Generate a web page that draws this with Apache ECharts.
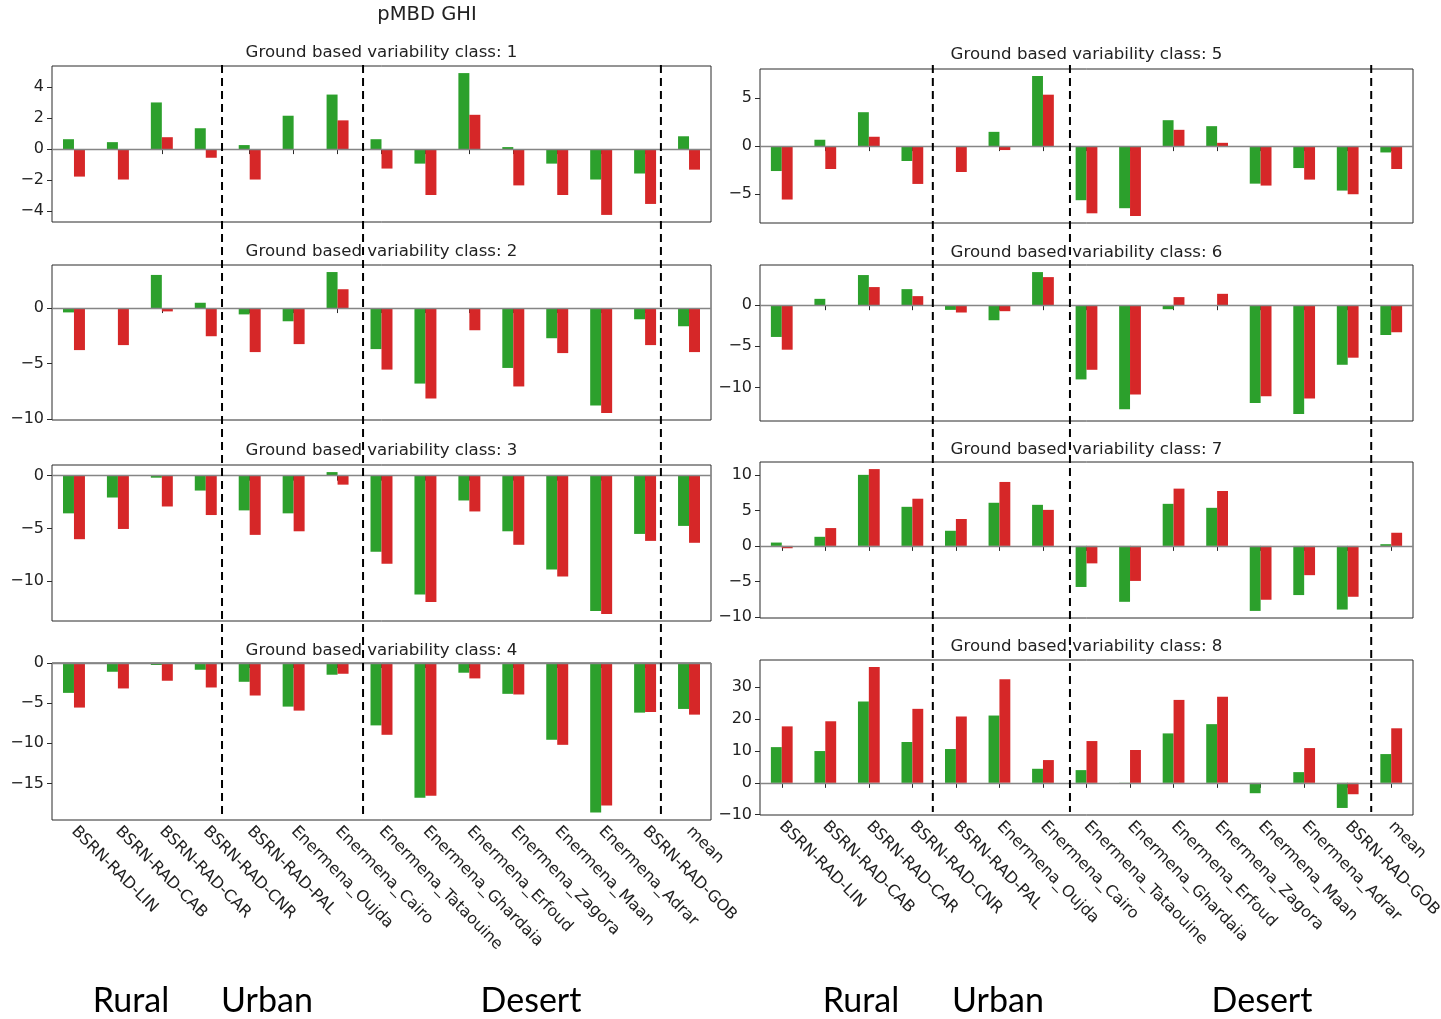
<!DOCTYPE html>
<html>
<head>
<meta charset="utf-8">
<title>pMBD GHI</title>
<script src="https://cdn.jsdelivr.net/npm/echarts@6/dist/echarts.min.js"></script>
<style>
  html, body { margin: 0; padding: 0; background: #fff; }
  #chart { width: 1441px; height: 1019px; }
</style>
</head>
<body>
<div id="chart"></div>
<script>
// Stations, shared by every panel
const categories = [
  'BSRN-RAD-LIN', 'BSRN-RAD-CAB', 'BSRN-RAD-CAR', 'BSRN-RAD-CNR', 'BSRN-RAD-PAL',
  'Enermena_Oujda', 'Enermena_Cairo', 'Enermena_Tataouine', 'Enermena_Ghardaia',
  'Enermena_Erfoud', 'Enermena_Zagora', 'Enermena_Maan', 'Enermena_Adrar',
  'BSRN-RAD-GOB', 'mean'
];

// pMBD (%) per variability class, green and red products
const greenClass1 = [0.64, 0.45, 3.02, 1.35, 0.26, 2.16, 3.53, 0.64, -0.94, 4.92, 0.13, -0.94, -1.97, -1.58, 0.83];
const redClass1   = [-1.78, -1.97, 0.77, -0.56, -1.97, -0.03, 1.86, -1.26, -2.97, 2.22, -2.35, -2.97, -4.26, -3.55, -1.33];

const greenClass2 = [-0.39, -0.03, 2.99, 0.48, -0.57, -1.19, 3.25, -3.70, -6.81, 0.0, -5.40, -2.72, -8.78, -1.01, -1.64];
const redClass2   = [-3.79, -3.34, -0.30, -2.54, -3.97, -3.25, 1.70, -5.55, -8.15, -2.00, -7.07, -4.06, -9.46, -3.34, -3.97];

const greenClass3 = [-3.57, -2.07, -0.19, -1.41, -3.29, -3.57, 0.34, -7.21, -11.25, -2.35, -5.27, -8.90, -12.82, -5.52, -4.76];
const redClass3   = [-6.02, -5.05, -2.92, -3.73, -5.61, -5.27, -0.85, -8.34, -11.97, -3.39, -6.55, -9.56, -13.10, -6.18, -6.36];

const greenClass4 = [-3.72, -1.09, -0.25, -0.84, -2.34, -5.43, -1.46, -7.77, -16.79, -1.21, -3.84, -9.56, -18.62, -6.18, -5.72];
const redClass4   = [-5.55, -3.17, -2.21, -3.05, -4.05, -5.93, -1.34, -8.94, -16.53, -1.92, -3.92, -10.19, -17.75, -6.10, -6.43];

const greenClass5 = [-2.59, 0.66, 3.52, -1.55, -0.03, 1.48, 7.28, -5.62, -6.45, 2.69, 2.07, -3.90, -2.28, -4.62, -0.66];
const redClass5   = [-5.55, -2.38, 0.97, -3.93, -2.69, -0.41, 5.34, -6.98, -7.26, 1.69, 0.34, -4.10, -3.48, -5.00, -2.38];

const greenClass6 = [-3.86, 0.77, 3.66, 1.95, -0.57, -1.83, 4.02, -9.02, -12.64, -0.49, -0.05, -11.87, -13.21, -7.24, -3.62];
const redClass6   = [-5.41, 0.0, 2.20, 1.10, -0.89, -0.73, 3.41, -7.85, -10.85, 0.98, 1.38, -11.06, -11.34, -6.38, -3.29];

const greenClass7 = [0.47, 1.28, 10.0, 5.50, 2.13, 6.07, 5.78, -5.78, -7.87, 5.92, 5.36, -9.15, -6.92, -8.96, 0.24];
const redClass7   = [-0.33, 2.51, 10.81, 6.64, 3.79, 9.00, 5.07, -2.46, -4.93, 8.06, 7.73, -7.58, -4.12, -7.16, 1.85];

const greenClass8 = [11.2, 9.97, 25.5, 12.8, 10.6, 21.1, 4.41, 3.99, -0.1, 15.5, 18.4, -3.25, 3.36, -7.87, 9.02];
const redClass8   = [17.7, 19.3, 36.3, 23.2, 20.8, 32.5, 7.14, 13.1, 10.3, 26.0, 27.0, 0.0, 10.9, -3.57, 17.1];

// y tick labels per class
const ticksClass1 = [-4, -2, 0, 2, 4];
const ticksClass2 = [-10, -5, 0];
const ticksClass3 = [-10, -5, 0];
const ticksClass4 = [-15, -10, -5, 0];
const ticksClass5 = [-5, 0, 5];
const ticksClass6 = [-10, -5, 0];
const ticksClass7 = [-10, -5, 0, 5, 10];
const ticksClass8 = [-10, 0, 10, 20, 30];

const classNumbers = [1, 2, 3, 4, 5, 6, 7, 8];
const greens = [greenClass1, greenClass2, greenClass3, greenClass4, greenClass5, greenClass6, greenClass7, greenClass8];
const reds = [redClass1, redClass2, redClass3, redClass4, redClass5, redClass6, redClass7, redClass8];
const ticks = [ticksClass1, ticksClass2, ticksClass3, ticksClass4, ticksClass5, ticksClass6, ticksClass7, ticksClass8];

const groupNames = ['Rural', 'Urban', 'Desert'];

// ---- layout ----
const FONT = 'DejaVu Sans';
const TEXT = '#222';
const GREEN = '#2ca02c';
const RED = '#d62728';
const panels = [
  { left: 52, width: 659, rows: [[66, 156], [265, 155], [465, 156], [663, 157]] },
  { left: 760, width: 653, rows: [[69, 154], [265, 156], [462, 156], [660, 155]] }
];
// station-group dividers, in category units
const dividerPos = [[3.37, 6.58, 13.36], [3.47, 6.62, 13.54]];
const dividerSpan = [[65, 814], [65, 812]];
const groupLabelX = [[131, 267, 531], [861, 998, 1262]];

// autoscale like matplotlib: 5% padding, bars stick to zero
function yRange(a, b) {
  const lo = Math.min(0, ...a, ...b), hi = Math.max(0, ...a, ...b);
  const pad = (hi - lo) * 0.05;
  return [lo < 0 ? lo - pad : 0, hi > 0 ? hi + pad : 0];
}
const fmtMinus = v => String(v).replace('-', '\u2212');

const grids = [], xAxes = [], yAxes = [], series = [];
for (let g = 0; g < 8; g++) {
  const p = panels[Math.floor(g / 4)];
  const row = p.rows[g % 4];
  const isBottom = g % 4 === 3;
  grids.push({
    left: p.left, width: p.width, top: row[0], height: row[1],
    outerBoundsMode: 'none', containLabel: false,
    show: true, borderColor: '#2a2a2a', borderWidth: 1, backgroundColor: 'transparent'
  });
  xAxes.push({
    type: 'category', gridIndex: g, data: categories, boundaryGap: true,
    axisLine: { show: false },
    axisTick: { show: true, alignWithLabel: true, length: 5, lineStyle: { color: '#2a2a2a' } },
    axisLabel: {
      show: isBottom, rotate: -45, interval: 0, margin: 9, hideOverlap: false,
      fontFamily: FONT, fontSize: 16, color: TEXT
    },
    splitLine: { show: false }
  });
  const r = yRange(greens[g], reds[g]);
  yAxes.push({
    type: 'value', gridIndex: g, min: r[0], max: r[1],
    axisLine: { show: false },
    axisTick: { show: true, length: 5, customValues: ticks[g], lineStyle: { color: '#2a2a2a' } },
    axisLabel: {
      customValues: ticks[g], formatter: fmtMinus, margin: 8,
      fontFamily: FONT, fontSize: 16, color: TEXT
    },
    splitLine: { show: false }
  });
  series.push({
    type: 'bar', xAxisIndex: g, yAxisIndex: g, data: greens[g],
    barWidth: '25%', barGap: '0%', itemStyle: { color: GREEN },
    silent: true, animation: false,
    markLine: {
      silent: true, symbol: 'none', label: { show: false },
      lineStyle: { color: '#858585', width: 1.4, type: 'solid' },
      data: [{ yAxis: 0 }]
    }
  });
  series.push({
    type: 'bar', xAxisIndex: g, yAxisIndex: g, data: reds[g],
    barWidth: '25%', barGap: '0%', itemStyle: { color: RED },
    silent: true, animation: false
  });
}

const chart = echarts.init(document.getElementById('chart'), null, { renderer: 'canvas' });
chart.setOption({
  animation: false,
  backgroundColor: '#fff',
  grid: grids, xAxis: xAxes, yAxis: yAxes, series: series
});

// text and divider overlays
const graphics = [];
graphics.push({
  type: 'text', x: 427, y: 15,
  style: { text: 'pMBD GHI', font: `19.5px "${FONT}"`, fill: TEXT, textAlign: 'center', textVerticalAlign: 'middle' }
});
const titleY = [53, 252, 451, 651, 55, 253, 450, 647];
for (let g = 0; g < 8; g++) {
  const p = panels[Math.floor(g / 4)];
  graphics.push({
    type: 'text', x: p.left + p.width / 2, y: titleY[g],
    style: {
      text: 'Ground based variability class: ' + classNumbers[g],
      font: `16.6px "${FONT}"`, fill: TEXT, textAlign: 'center', textVerticalAlign: 'middle'
    }
  });
}
for (let k = 0; k < 2; k++) {
  const axisIdx = k * 4;
  const px = i => chart.convertToPixel({ xAxisIndex: axisIdx }, categories[i]);
  dividerPos[k].forEach(pos => {
    const i0 = Math.floor(pos), f = pos - i0;
    const x = px(i0) + f * (px(i0 + 1) - px(i0));
    graphics.push({
      type: 'line', silent: true, z: 100,
      shape: { x1: x, y1: dividerSpan[k][0], x2: x, y2: dividerSpan[k][1] },
      style: { stroke: '#000', lineWidth: 2, lineDash: [8, 5] }
    });
  });
  groupNames.forEach((name, j) => {
    graphics.push({
      type: 'text', x: groupLabelX[k][j], y: 1001,
      style: { text: name, font: '34px Lato', fill: '#000', textAlign: 'center', textVerticalAlign: 'middle' }
    });
  });
}
chart.setOption({ graphic: graphics });
</script>
</body>
</html>
